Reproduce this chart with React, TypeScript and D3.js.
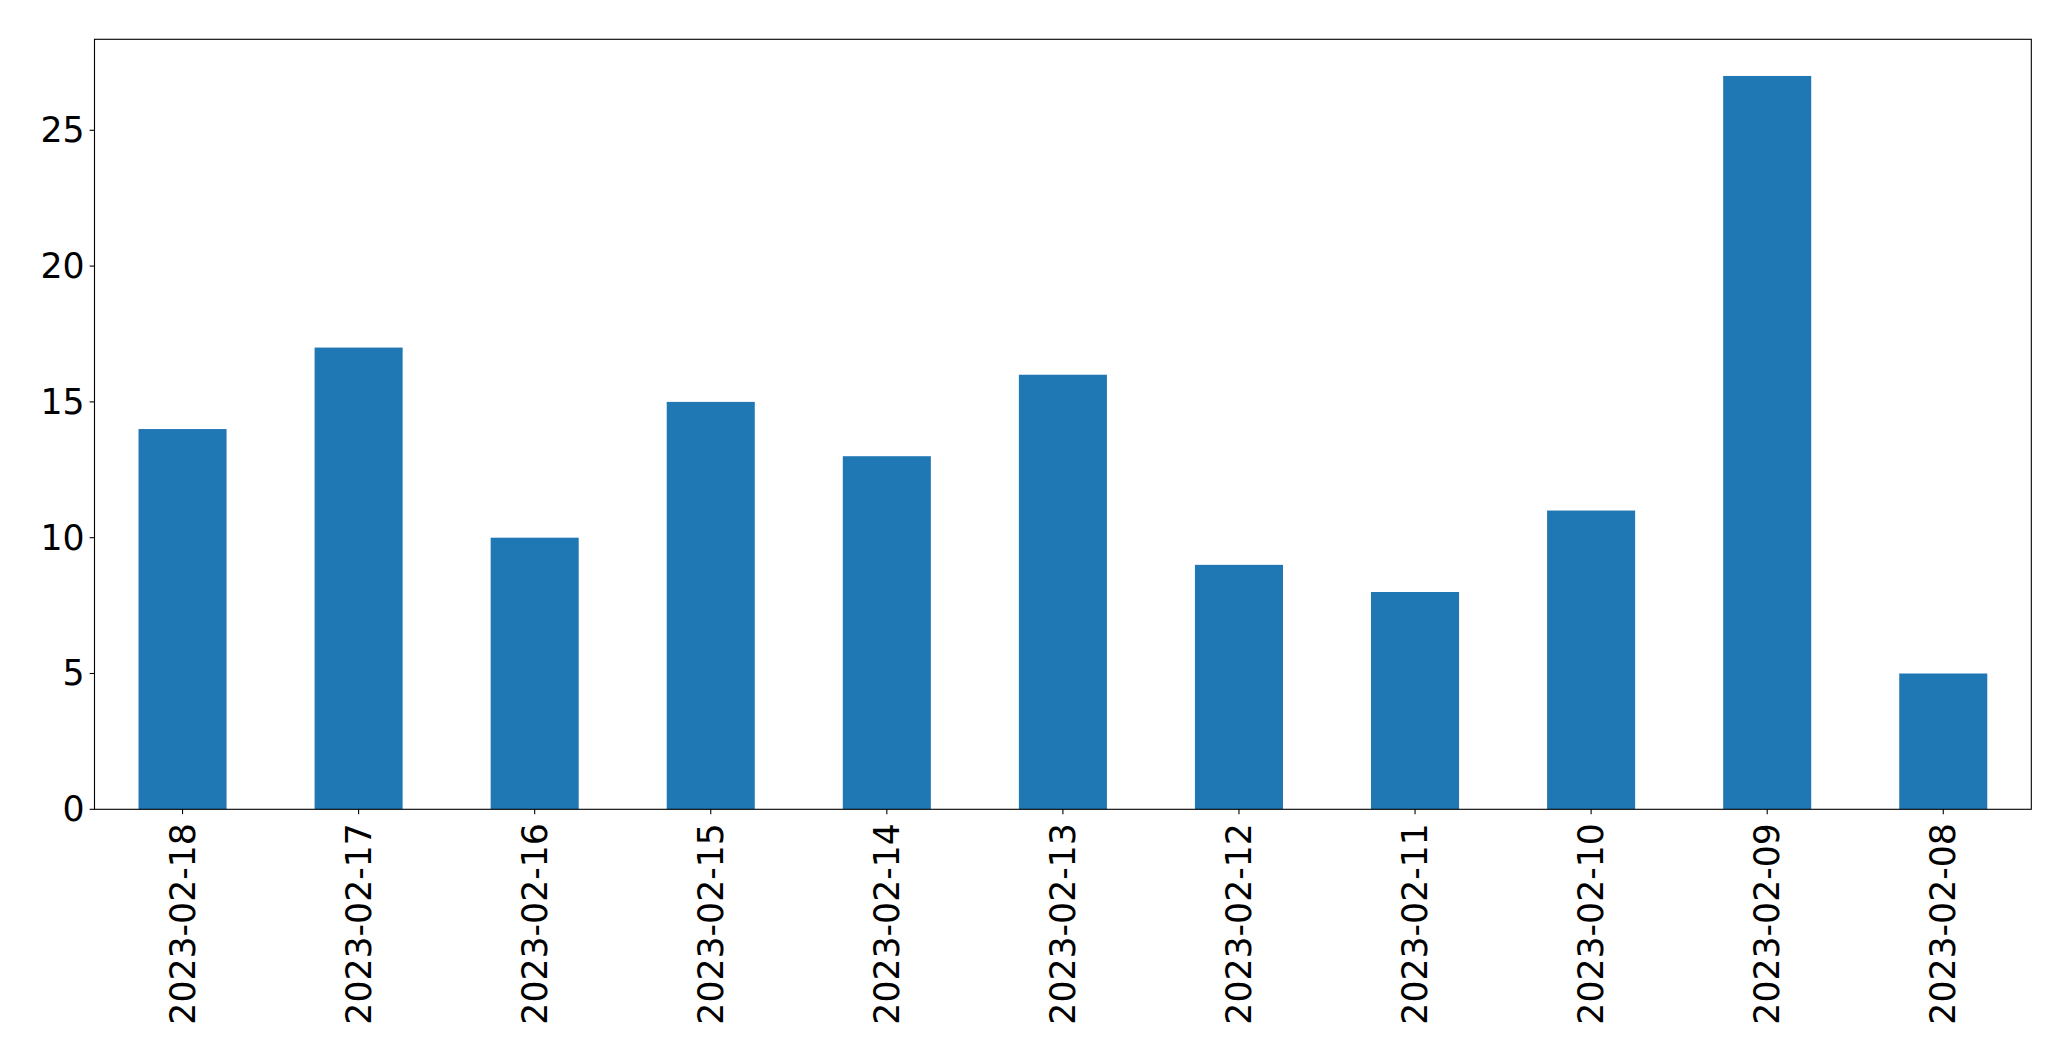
import React from "react";
import * as d3 from "d3";

const categories = ["2023-02-18", "2023-02-17", "2023-02-16", "2023-02-15", "2023-02-14", "2023-02-13", "2023-02-12", "2023-02-11", "2023-02-10", "2023-02-09", "2023-02-08"];
const values = [14, 17, 10, 15, 13, 16, 9, 8, 11, 27, 5];
const yTicks = [0, 5, 10, 15, 20, 25];

export default function App() {
  const W = 2071, H = 1061;
  const left = 94.5, right = 2031.3, top = 39.3, bottom = 809.3;
  const fs = 34.7;
  const x = d3.scaleBand<string>().domain(categories).range([left, right]).paddingInner(0.5).paddingOuter(0.25);
  const y = d3.scaleLinear().domain([0, d3.max(values)! * 1.05]).range([bottom, top]);
  const font = "DejaVu Sans, sans-serif";
  return (
    <svg width={W} height={H} style={{ position: "absolute", left: 0, top: 0 }} fontFamily={font}>
      <rect x={0} y={0} width={W} height={H} fill="#fff" />
      {categories.map((c, i) => (
        <rect key={c} x={x(c)} y={y(values[i])} width={x.bandwidth()} height={y(0) - y(values[i])} fill="#1f77b4" />
      ))}
      <rect x={left} y={top} width={right - left} height={bottom - top} fill="none" stroke="#000" strokeWidth={1.1} />
      {yTicks.map((t) => (
        <g key={t}>
          <line x1={left - 4.9} x2={left} y1={y(t)} y2={y(t)} stroke="#000" strokeWidth={1.1} />
          <text x={left - 4.9 - 4.9} y={y(t)} textAnchor="end" dominantBaseline="central" fontSize={fs} fill="#000">{t}</text>
        </g>
      ))}
      {categories.map((c) => {
        const cx = x(c)! + x.bandwidth() / 2;
        return (
          <g key={c}>
            <line x1={cx} x2={cx} y1={bottom} y2={bottom + 4.9} stroke="#000" strokeWidth={1.1} />
            <text transform={`translate(${cx},${bottom + 4.9 + 8.9}) rotate(-90)`} textAnchor="end" dominantBaseline="central" fontSize={fs} fill="#000">{c}</text>
          </g>
        );
      })}
    </svg>
  );
}
